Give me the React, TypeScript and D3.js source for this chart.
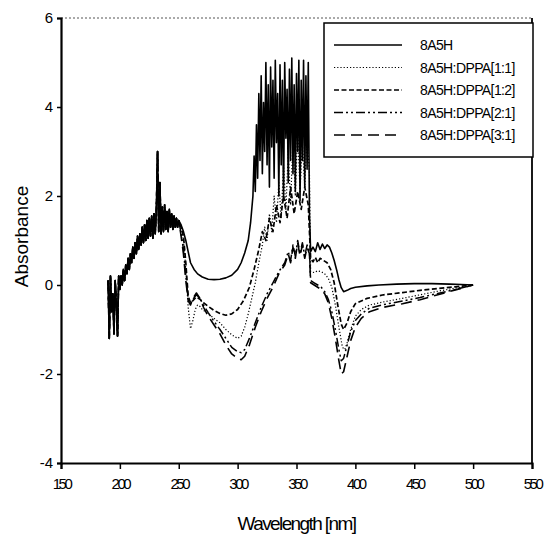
import React, { useEffect, useRef } from "react"
import * as d3 from "d3"

// shared noisy onset, all five spectra overlap here
const earlyWl = [
  190, 191, 192, 193, 194, 195, 196, 197, 198, 199, 200, 201, 202, 203, 204, 205, 206, 207, 208, 209,
  210, 211, 212, 213, 214, 215, 216, 217, 218, 219, 220, 221, 222, 223, 224, 225, 226, 227, 228, 229,
  230, 231, 232, 233, 234, 235, 236, 237, 238, 239, 240, 241, 242, 243, 244, 245, 246, 247, 248, 249, 250
]
const earlyAbs = [
  0.1, -1.2, 0.2, -0.6, -0.2, -1.1, 0.1, -0.4, -1.15, 0.2, -0.1, 0.2, 0.0, 0.35, 0.1, 0.45, 0.25, 0.6, 0.35, 0.7,
  0.5, 0.85, 0.6, 0.95, 0.7, 1.1, 0.8, 1.15, 0.9, 1.3, 0.95, 1.35, 1.0, 1.45, 1.05, 1.5, 1.1, 1.55, 1.05, 1.6,
  1.15, 1.7, 3.0, 1.2, 2.3, 1.15, 1.75, 1.2, 1.8, 1.25, 1.65, 1.2, 1.7, 1.3, 1.6, 1.25, 1.55, 1.3, 1.5, 1.3, 1.45
]

const tail8A5H: [number, number][] = [
  [252, 1.35], [254, 1.2], [256, 1.0], [258, 0.75], [260, 0.5], [263, 0.35], [266, 0.25], [270, 0.18], [275, 0.13], [280, 0.12],
  [285, 0.13], [290, 0.16], [295, 0.22], [300, 0.35], [303, 0.5], [306, 0.72], [309, 1.0], [311, 1.4], [313, 2.0], [314, 2.9],
  [315, 2.1], [316, 3.6], [317, 2.4], [318, 4.3], [319, 2.8], [320, 4.7], [321, 2.5], [322, 4.1], [323, 3.0], [324, 5.0],
  [325, 2.7], [326, 4.5], [327, 2.2], [328, 4.9], [329, 3.1], [330, 4.6], [331, 2.4], [332, 5.05], [333, 3.2], [334, 4.3],
  [335, 2.0], [336, 4.95], [337, 2.7], [338, 4.6], [339, 1.9], [340, 5.0], [341, 3.3], [342, 4.4], [343, 2.3], [344, 4.85],
  [345, 2.8], [346, 5.1], [347, 2.5], [348, 4.5], [349, 2.1], [350, 4.75], [351, 3.0], [352, 5.05], [353, 1.9], [354, 4.6],
  [355, 2.8], [356, 5.05], [357, 2.2], [358, 4.7], [359, 2.6], [360, 5.0], [361, 1.6], [362, 0.75], [364, 0.85], [366, 0.75],
  [368, 0.95], [370, 0.8], [372, 0.92], [374, 0.82], [376, 0.9], [378, 0.85], [380, 0.72], [382, 0.55], [384, 0.35], [386, 0.12],
  [388, -0.06], [390, -0.15], [393, -0.12], [396, -0.08], [400, -0.05], [410, -0.02], [420, 0.0], [435, 0.02], [450, 0.03],
  [465, 0.03], [480, 0.02], [490, 0.01], [500, 0]
]

const tail11: [number, number][] = [
  [252, 1.3], [254, 1.0], [256, 0.35], [258, -0.5], [260, -0.98], [262, -0.8], [264, -0.55], [266, -0.45], [268, -0.48], [270, -0.55],
  [275, -0.65], [280, -0.75], [285, -0.85], [290, -1.0], [295, -1.12], [300, -1.2], [303, -1.15], [306, -0.95], [309, -0.65], [312, -0.3],
  [315, 0.05], [318, 0.5], [321, 0.9], [323, 1.3], [325, 1.0], [327, 1.6], [329, 1.2], [331, 2.0], [333, 1.4], [335, 2.3],
  [337, 1.5], [339, 2.7], [341, 1.7], [343, 3.0], [345, 1.8], [347, 3.3], [349, 2.0], [351, 3.5], [353, 2.1], [355, 3.2],
  [357, 2.2], [359, 3.4], [361, 2.5], [362, 0.3], [365, 0.28], [368, 0.32], [371, 0.3], [374, 0.25], [377, 0.15], [380, -0.05],
  [383, -0.45], [386, -0.95], [389, -1.4], [391, -1.45], [393, -1.3], [396, -1.0], [400, -0.7], [405, -0.55], [412, -0.45],
  [424, -0.38], [440, -0.3], [455, -0.22], [470, -0.14], [485, -0.07], [500, 0]
]

const tail12: [number, number][] = [
  [252, 1.3], [254, 1.1], [256, 0.5], [258, -0.25], [260, -0.4], [262, -0.35], [265, -0.27], [268, -0.32], [271, -0.4], [275, -0.48],
  [280, -0.57], [285, -0.64], [290, -0.68], [295, -0.65], [300, -0.55], [305, -0.35], [310, -0.05], [314, 0.35], [318, 0.8], [321, 1.2],
  [324, 1.0], [327, 1.5], [330, 1.2], [333, 1.8], [336, 1.4], [339, 2.0], [342, 1.5], [345, 2.2], [348, 1.6], [351, 2.1],
  [354, 1.7], [357, 2.2], [360, 1.8], [362, 0.6], [364, 0.52], [366, 0.62], [368, 0.5], [370, 0.6], [373, 0.55], [376, 0.5],
  [379, 0.35], [382, 0.05], [385, -0.45], [388, -0.88], [390, -1.0], [393, -0.85], [396, -0.6], [400, -0.42], [410, -0.3],
  [424, -0.22], [440, -0.17], [455, -0.12], [470, -0.08], [485, -0.04], [500, 0]
]

const tail21: [number, number][] = [
  [252, 1.15], [254, 0.8], [256, 0.2], [258, -0.3], [260, -0.42], [262, -0.32], [265, -0.22], [268, -0.3], [271, -0.45], [275, -0.62],
  [280, -0.82], [285, -1.0], [290, -1.2], [295, -1.4], [300, -1.5], [303, -1.52], [306, -1.45], [310, -1.2], [315, -0.85], [320, -0.5],
  [325, -0.2], [330, 0.05], [335, 0.3], [340, 0.5], [343, 0.75], [345, 0.55], [347, 0.9], [349, 0.65], [351, 1.0], [353, 0.7],
  [355, 0.95], [357, 0.65], [359, 0.9], [361, 0.75], [362, 0.1], [365, 0.05], [368, 0.0], [371, -0.05], [374, -0.15], [377, -0.32],
  [380, -0.6], [383, -1.0], [386, -1.45], [388, -1.7], [390, -1.65], [393, -1.35], [396, -1.05], [400, -0.8], [405, -0.65],
  [412, -0.52], [424, -0.44], [440, -0.36], [455, -0.28], [470, -0.19], [485, -0.1], [500, 0]
]

const tail31: [number, number][] = [
  [252, 1.1], [254, 0.7], [256, 0.1], [258, -0.35], [260, -0.45], [262, -0.3], [265, -0.18], [268, -0.3], [271, -0.5], [275, -0.7],
  [280, -0.9], [285, -1.1], [290, -1.35], [295, -1.55], [300, -1.65], [303, -1.68], [306, -1.6], [310, -1.35], [315, -0.95], [320, -0.6],
  [325, -0.3], [330, -0.05], [335, 0.25], [340, 0.45], [343, 0.7], [345, 0.5], [347, 0.85], [349, 0.6], [351, 0.95], [353, 0.65],
  [355, 0.9], [357, 0.6], [359, 0.85], [361, 0.7], [362, 0.05], [365, 0.0], [368, -0.05], [371, -0.1], [374, -0.2], [377, -0.4],
  [380, -0.75], [383, -1.2], [386, -1.7], [388, -2.0], [390, -1.95], [393, -1.6], [396, -1.25], [400, -0.95], [405, -0.75],
  [412, -0.6], [424, -0.5], [440, -0.42], [455, -0.33], [470, -0.22], [485, -0.11], [500, 0]
]

const seriesNames = ["8A5H", "8A5H:DPPA[1:1]", "8A5H:DPPA[1:2]", "8A5H:DPPA[2:1]", "8A5H:DPPA[3:1]"]
const seriesTails = [tail8A5H, tail11, tail12, tail21, tail31]
const dashes = ["none", "1.2,2", "5,2.5", "9,3,2,3,2,3", "11,6"]
const widths = [1.6, 1.2, 1.7, 1.5, 1.6]

const xTicks = [150, 200, 250, 300, 350, 400, 450, 500, 550]
const yTicks = [-4, -2, 0, 2, 4, 6]

const FONT = "'Liberation Sans', Arial, sans-serif"

export default function App() {
  const ref = useRef<SVGSVGElement>(null)

  useEffect(() => {
    const svg = d3.select(ref.current)
    svg.selectAll("*").remove()

    const left = 61, right = 532, top = 18, bottom = 463
    const x = d3.scaleLinear().domain([150, 550]).range([left, right])
    const y = d3.scaleLinear().domain([-4, 6]).range([bottom, top])

    const early: [number, number][] = earlyWl.map((w, i) => [w, earlyAbs[i]])

    const line = d3
      .line<[number, number]>()
      .x(d => x(d[0]))
      .y(d => y(d[1]))

    const g = svg.append("g")
    seriesTails.forEach((tail, i) => {
      g.append("path")
        .datum([...early, ...tail])
        .attr("d", line)
        .attr("fill", "none")
        .attr("stroke", "#000")
        .attr("stroke-width", widths[i])
        .attr("stroke-dasharray", dashes[i])
        .attr("stroke-linejoin", "round")
    })

    // frame
    svg.append("line").attr("x1", left).attr("x2", right).attr("y1", top).attr("y2", top)
      .attr("stroke", "#555").attr("stroke-width", 1).attr("stroke-dasharray", "2,2")
    svg.append("line").attr("x1", right).attr("x2", right).attr("y1", top).attr("y2", bottom)
      .attr("stroke", "#000").attr("stroke-width", 1.8)

    const xAxis = svg.append("g")
      .attr("transform", `translate(0,${bottom})`)
      .call(d3.axisBottom(x).tickValues(xTicks).tickFormat(d => String(d)).tickSizeOuter(0).tickSize(6).tickPadding(9))
    xAxis.select(".domain").attr("stroke-width", 2.2)
    xAxis.selectAll(".tick line").attr("stroke-width", 1.5)
    xAxis.selectAll("text")
      .attr("font-family", FONT).attr("font-size", 15).attr("letter-spacing", -2.5).attr("fill", "#000")

    const yAxis = svg.append("g")
      .attr("transform", `translate(${left},0)`)
      .call(d3.axisLeft(y).tickValues(yTicks).tickFormat(d => String(d)).tickSizeOuter(0).tickSize(4).tickPadding(4))
    yAxis.select(".domain").attr("stroke-width", 2.2)
    yAxis.selectAll(".tick line").attr("stroke-width", 1.5)
    yAxis.selectAll("text")
      .attr("font-family", FONT).attr("font-size", 15).attr("fill", "#000")

    svg.append("text")
      .attr("x", (left + right) / 2).attr("y", 530)
      .attr("text-anchor", "middle")
      .attr("font-family", FONT).attr("font-size", 19).attr("letter-spacing", -1.6)
      .text("Wavelength [nm]")

    svg.append("text")
      .attr("transform", `translate(28,${(top + bottom) / 2 - 4}) rotate(-90)`)
      .attr("text-anchor", "middle")
      .attr("font-family", FONT).attr("font-size", 19)
      .text("Absorbance")

    // legend
    const lg = svg.append("g")
    lg.append("rect")
      .attr("x", 324).attr("y", 23).attr("width", 209).attr("height", 134)
      .attr("fill", "#fff").attr("stroke", "#000").attr("stroke-width", 1.5)
    seriesNames.forEach((name, i) => {
      const cy = 45 + i * 22.5
      lg.append("line")
        .attr("x1", 334).attr("x2", 402).attr("y1", cy).attr("y2", cy)
        .attr("stroke", "#000").attr("stroke-width", widths[i])
        .attr("stroke-dasharray", dashes[i])
      lg.append("text")
        .attr("x", 420).attr("y", cy + 5)
        .attr("font-family", FONT).attr("font-size", 14).attr("letter-spacing", -0.6)
        .text(name)
    })
  }, [])

  return (
    <svg
      ref={ref}
      width={547}
      height={535}
      style={{ position: "absolute", left: 0, top: 0, background: "#fff" }}
    />
  )
}
